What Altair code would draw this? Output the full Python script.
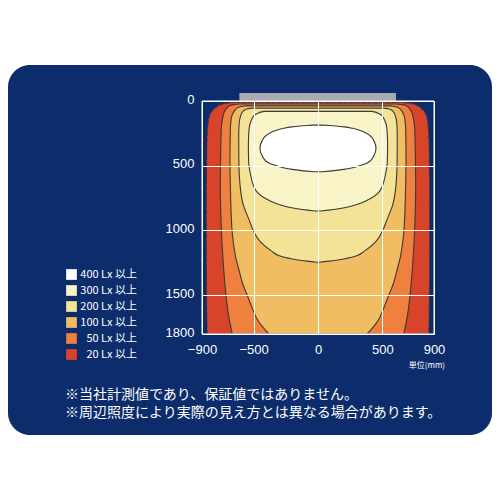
import altair as alt
import pandas as pd

# ---- data ----
levels = ["400 Lx 以上", "300 Lx 以上", "200 Lx 以上", "100 Lx 以上",
          "50 Lx 以上", "20 Lx 以上"]
colors = ["#ffffff", "#f8f4c8", "#f4e296", "#f1bd62", "#ef803e", "#d8442a"]

# contour boundaries: depth (mm) and half-width (mm)
d20 = [10, 18, 30, 44, 62, 82, 110, 160, 220, 300, 500, 800, 1100, 1400, 1600, 1800]
w20 = [640, 709, 760, 786, 808, 825, 840, 851, 857, 861, 864, 866, 866, 865, 863, 860]

d50 = [23, 28, 40, 57, 80, 108, 150, 211, 470, 650, 985, 1240, 1500, 1650, 1800]
w50 = [610, 657, 690, 709, 724, 734, 743, 750, 756, 758, 750, 736, 714, 695, 665]

d100 = [38, 44, 55, 70, 95, 121, 160, 211, 470, 650, 985, 1100, 1200, 1310, 1410,
        1510, 1600, 1680, 1745, 1800]
w100 = [570, 605, 628, 644, 660, 670, 676, 680, 683, 680, 668, 656, 640, 612, 585,
        545, 510, 475, 430, 380]

d200 = [55, 62, 72, 84, 95, 125, 160, 220, 290, 470, 650, 805, 905, 1000, 1085,
        1160, 1195, 1216, 1232, 1241, 1246]
w200 = [510, 553, 572, 585, 592, 603, 610, 614, 615, 614, 605, 579, 540, 502, 450,
        360, 300, 220, 130, 50, 10]

d300 = [80, 86, 95, 108, 121, 150, 186, 260, 350, 470, 560, 650, 700, 752, 790,
        815, 832, 843, 850]
w300 = [420, 445, 465, 490, 502, 518, 530, 538, 540, 538, 525, 502, 476, 411, 330,
        250, 160, 80, 20]

d400 = [186, 189, 193, 200, 211, 230, 263, 310, 366, 420, 469, 495, 515, 528, 536, 542, 547]
w400 = [40, 90, 140, 205, 269, 335, 398, 435, 450, 435, 398, 340, 269, 200, 140, 85, 30]

x_ticks = [-900, -500, 0, 500, 900]
y_ticks = [0, 500, 1000, 1500, 1800]
x_domain = [-900, 900]
y_domain = [0, 1800]
fixture_x = [-610, 605]
fixture_y = [-62, 0]

notes = ["※当社計測値であり、保証値ではありません。",
         "※周辺照度により実際の見え方とは異なる場合があります。"]
unit_label = "単位(mm)"

navy = "#0c2c6b"

# ---- scales / axes ----
xscale = alt.Scale(domain=x_domain, nice=False, zero=False)
yscale = alt.Scale(domain=y_domain, reverse=True, nice=False, zero=False)
axis_common = dict(title=None, grid=True, gridColor="white", gridWidth=1, gridOpacity=1,
                   ticks=False, domain=False, labelColor="white", format="d",
                   labelFont="Liberation Sans", labelFontSize=13, labelFlush=False,
                   zindex=1)
xaxis = alt.Axis(values=x_ticks, labelPadding=9, **axis_common)
yaxis = alt.Axis(values=y_ticks, labelPadding=8, labelOffset=-2, **axis_common)

legend = alt.Legend(orient="none", legendX=-136, legendY=168, title=None,
                    symbolType="square", symbolSize=115, symbolStrokeWidth=0,
                    symbolOpacity=1, labelColor="white", labelFont="Noto Sans CJK JP",
                    labelFontSize=11, rowPadding=4, labelAlign="right",
                    labelOffset=60, padding=0)
color = alt.Color("level:N", scale=alt.Scale(domain=levels, range=colors), legend=legend)

# ---- layers ----
bg = alt.Chart(pd.DataFrame({"k": [0]})).mark_rect(color=navy, cornerRadius=22).encode(
    x=alt.value(-194), x2=alt.value(290), y=alt.value(-36), y2=alt.value(334))

contours = [(levels[5], d20, w20), (levels[4], d50, w50), (levels[3], d100, w100),
            (levels[2], d200, w200), (levels[1], d300, w300), (levels[0], d400, w400)]

area_layers = []
for lab, dep, half in contours:
    df = pd.DataFrame({"level": lab, "depth": dep,
                       "lo": [-w for w in half], "hi": half})
    kw = dict(orient="horizontal", interpolate="monotone", stroke="#3a3a3a",
              strokeWidth=1.1, fillOpacity=1)
    if lab == levels[5]:
        kw["strokeDash"] = [4, 2]
    area_layers.append(
        alt.Chart(df).mark_area(**kw).encode(
            y=alt.Y("depth:Q", scale=yscale, axis=yaxis),
            x=alt.X("lo:Q", scale=xscale, axis=xaxis, stack=False),
            x2="hi:Q",
            color=color,
        )
    )

fix_df = pd.DataFrame({"x1": [fixture_x[0]], "x2": [fixture_x[1]],
                       "y1": [fixture_y[0]], "y2": [fixture_y[1]]})
fixture = alt.Chart(fix_df).mark_rect(color="#a9abb0").encode(
    x=alt.X("x1:Q", scale=xscale, axis=xaxis), x2="x2:Q",
    y=alt.Y("y1:Q", scale=yscale, axis=yaxis), y2="y2:Q")

frame_df = pd.DataFrame({"x1": [x_domain[0]], "x2": [x_domain[1]],
                         "y1": [y_domain[0]], "y2": [y_domain[1]]})
frame = alt.Chart(frame_df).mark_rect(fill="transparent", stroke="white",
                                      strokeWidth=1).encode(
    x=alt.X("x1:Q", scale=xscale, axis=xaxis), x2="x2:Q",
    y=alt.Y("y1:Q", scale=yscale, axis=yaxis), y2="y2:Q")

unit = alt.Chart(pd.DataFrame({"t": [unit_label]})).mark_text(
    align="right", baseline="middle", fontSize=8, color="white",
    font="Noto Sans CJK JP").encode(text="t:N", x=alt.value(243), y=alt.value(265))

note_layers = []
for k, line in enumerate(notes):
    note_layers.append(
        alt.Chart(pd.DataFrame({"t": [line]})).mark_text(
            align="left", baseline="middle", fontSize=14, color="white",
            font="Noto Sans CJK JP").encode(
            text="t:N", x=alt.value(-137), y=alt.value(294 + 18 * k))
    )

chart = alt.layer(bg, *area_layers, fixture, frame, unit, *note_layers).properties(
    width=232, height=233,
    autosize=alt.AutoSizeParams(type="none"),
    padding={"left": 194, "top": 93, "right": 58, "bottom": 158},
).configure_view(strokeWidth=0)

chart.save("out.html", embed_options={"renderer": "svg", "actions": False})
